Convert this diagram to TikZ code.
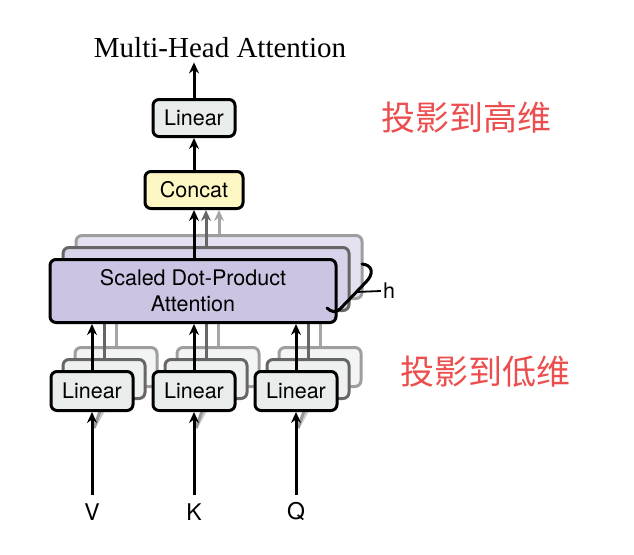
\documentclass[tikz,border=0pt]{standalone}
\usepackage{fontspec}
\setmainfont{Liberation Serif}
\setsansfont{TeX Gyre Heros}
\newfontfamily\cjk{Noto Sans CJK SC}
\usepackage{tikz}
\usetikzlibrary{arrows.meta,positioning}
\definecolor{linfill}{RGB}{232,236,235}
\definecolor{catfill}{RGB}{252,247,195}
\definecolor{attfill}{RGB}{203,196,227}
\definecolor{notered}{RGB}{236,78,78}
\tikzset{
	>=Stealth,
	block/.style={
		draw,
		rounded corners=6pt,
		line width=3pt,
		inner sep=0pt,
		align=center,
		font=\sffamily\fontsize{21.5}{26}\selectfont
	},
	linbox/.style={block,fill=linfill,minimum width=82pt,minimum height=39pt},
	catbox/.style={block,fill=catfill,minimum width=98pt,minimum height=37pt},
	attbox/.style={block,fill=attfill,minimum width=286pt,minimum height=63pt},
	copyone/.style={draw=black!60,fill=#1!75!white},
	copytwo/.style={draw=black!38,fill=#1!50!white},
	conn/.style={
		-{Stealth[length=11pt,width=10pt]},
		line width=3pt
	},
	connone/.style={conn,black!60},
	conntwo/.style={conn,black!35},
	inlabel/.style={inner sep=8pt,font=\sffamily\fontsize{23}{26}\selectfont},
	note/.style={text=notered,font=\cjk\fontsize{34}{36}\selectfont}
}
\begin{document}
\begin{tikzpicture}[x=1pt,y=-1pt]
	\useasboundingbox (0,0) rectangle (634,554);
	
	% Inputs
	\node[inlabel] (V) at (92,512) {V};
	\node[inlabel] (K) at (194,512) {K};
	\node[inlabel] (Q) at (296,512) {Q};
	\coordinate (vin) at (94,428);
	\coordinate (kin) at (196,428);
	\coordinate (qin) at (298,428);
	
	% Back copies (second)
	\node[linbox,copytwo=linfill] (linV2) at (116,367) {};
	\node[linbox,copytwo=linfill] (linK2) at (218,367) {};
	\node[linbox,copytwo=linfill] (linQ2) at (320,367) {};
	\node[attbox,copytwo=attfill] (att2) at (219,267) {};
	\draw[conntwo,black!20] (vin) -- (linV2.south);
	\draw[conntwo,black!20] (kin) -- (linK2.south);
	\draw[conntwo,black!20] (qin) -- (linQ2.south);
	\draw[conntwo] (linV2.north) -- (linV2.north |- att2.south);
	\draw[conntwo] (linK2.north) -- (linK2.north |- att2.south);
	\draw[conntwo] (linQ2.north) -- (linQ2.north |- att2.south);
	
	% Back copies (first)
	\node[linbox,copyone=linfill] (linV1) at (104,379) {};
	\node[linbox,copyone=linfill] (linK1) at (206,379) {};
	\node[linbox,copyone=linfill] (linQ1) at (308,379) {};
	\node[attbox,copyone=attfill] (att1) at (206,279) {};
	\draw[connone,black!40] (vin) -- (linV1.south);
	\draw[connone,black!40] (kin) -- (linK1.south);
	\draw[connone,black!40] (qin) -- (linQ1.south);
	\draw[connone] (linV1.north) -- (linV1.north |- att1.south);
	\draw[connone] (linK1.north) -- (linK1.north |- att1.south);
	\draw[connone] (linQ1.north) -- (linQ1.north |- att1.south);
	
	% Front layer
	\node[linbox] (linV) at (92,391) {Linear};
	\node[linbox] (linK) at (194,391) {Linear};
	\node[linbox] (linQ) at (296,391) {Linear};
	\node[attbox] (att) at (193,291) {Scaled Dot-Product\\Attention};
	\node[catbox] (concat) at (194,190) {Concat};
	\node[linbox,minimum height=37pt] (lintop) at (194,118) {Linear};
	\node[font=\fontsize{29}{32}\selectfont,inner sep=4pt] (title) at (220,48) {Multi-Head Attention};
	
	% Main path connections
	\draw[conn] (V) -- (linV);
	\draw[conn] (K) -- (linK);
	\draw[conn] (Q) -- (linQ);
	\draw[conn] (linV.north) -- (linV.north |- att.south);
	\draw[conn] (linK.north) -- (linK.north |- att.south);
	\draw[conn] (linQ.north) -- (linQ.north |- att.south);
	\draw[conntwo] (att2.north -| 219,0) -- (concat.south -| 219,0);
	\draw[connone] (att1.north -| 206,0) -- (concat.south -| 206,0);
	\draw[conn] (concat.south |- att.north) -- (concat.south);
	\draw[conn] (concat) -- (lintop);
	\draw[conn] (lintop.north) -- (lintop.north |- title.south);
	
	% Heads
	\draw[line width=3pt,line cap=round]
	(362,264) .. controls (373,265) and (374,274) .. (366,282)
	-- (340,309) .. controls (336,313) and (331,312) .. (327,308);
	\coordinate (hfrom) at (356,292);
	\node[font=\sffamily\fontsize{21.5}{24}\selectfont,inner sep=2pt] (h) at (389,291) {h};
	\draw[line width=1.8pt] (hfrom) -- (h.west);
	
	% Notes
	\node[note] (high) at (466,118) {投影到高维};
	\node[note] (low) at (485,372) {投影到低维};
	
\end{tikzpicture}
\end{document}
